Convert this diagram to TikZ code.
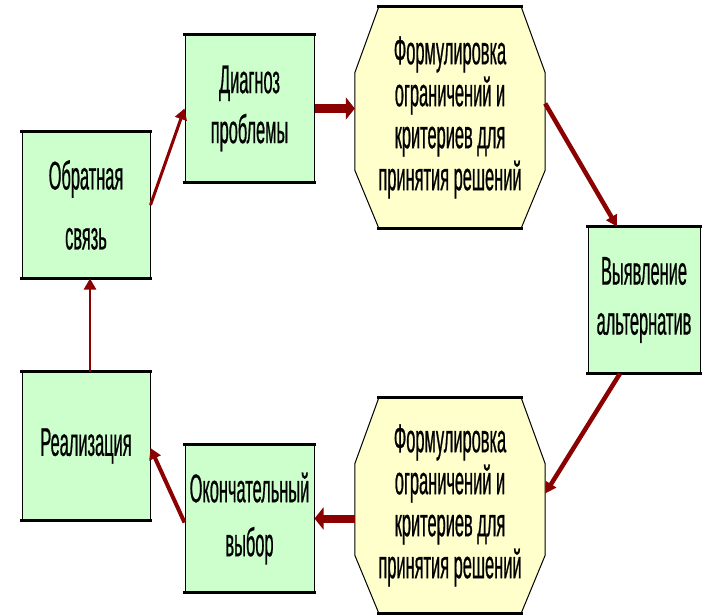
\documentclass[tikz,border=0pt]{standalone}
\usepackage{fontspec}
\newfontfamily\boxfont[FakeStretch=0.41,FakeBold=0.5]{Liberation Sans}
\usetikzlibrary{arrows.meta,calc,backgrounds}
\definecolor{boxgreen}{RGB}{204,255,204}
\definecolor{boxyellow}{RGB}{255,255,204}
\definecolor{arrowred}{RGB}{139,0,0}
\tikzset{
  greenbox/.style={rectangle, fill=boxgreen, draw=black, line width=1pt, inner sep=0pt,
    align=center, text=black},
  octnode/.style={rectangle, inner sep=0pt, align=center, text=black,
    font=\boxfont\fontsize{40}{42}\selectfont},
  edgeline/.style={line width=3pt, line cap=rect},
  conn/.style={draw=arrowred, line width=#1, -{Triangle[length=11pt,width=12pt]}},
  bigconn/.style={draw=arrowred, line width=#1, -{Triangle[length=9pt,width=22pt]}}
}
\begin{document}
\begin{tikzpicture}[x=1pt,y=-1pt]
\path[use as bounding box] (0,0) rectangle (702,615);

\node[greenbox, minimum width=128pt, minimum height=146pt,
  font=\boxfont\fontsize{40}{60}\selectfont] (fb) at (86,205) {Обратная\\связь};
\node[greenbox, minimum width=129pt, minimum height=147pt,
  font=\boxfont\fontsize{40}{50}\selectfont] (dg) at (249.5,108.5) {Диагноз\\проблемы};
\node[octnode, minimum width=190pt, minimum height=221pt] (oc1) at (450,117.5)
  {Формулировка\\ограничений и\\критериев для\\принятия решений};
\node[greenbox, minimum width=112pt, minimum height=146pt,
  font=\boxfont\fontsize{40}{50}\selectfont] (va) at (644,300) {Выявление\\альтернатив};
\node[octnode, minimum width=190pt, minimum height=215pt] (oc2) at (450,505.5)
  {Формулировка\\ограничений и\\критериев для\\принятия решений};
\node[greenbox, minimum width=129pt, minimum height=147pt,
  font=\boxfont\fontsize{40}{54}\selectfont] (ok) at (249.5,518.5) {Окончательный\\выбор};
\node[greenbox, minimum width=128pt, minimum height=148pt,
  font=\boxfont\fontsize{40}{50}\selectfont] (re) at (86,446) {Реализация};

\begin{scope}[on background layer]
\foreach \X in {oc1,oc2}{
  \filldraw[fill=boxyellow, draw=black, line width=1pt]
    ($(\X.north west)+(24,0)$) -- ($(\X.north east)+(-24,0)$)
    -- ($(\X.north east)+(0,66)$) -- ($(\X.south east)+(0,-58)$)
    -- ($(\X.south east)+(-24,0)$) -- ($(\X.south west)+(24,0)$)
    -- ($(\X.south west)+(0,-58)$) -- ($(\X.north west)+(0,66)$) -- cycle;
}
\end{scope}
\foreach \X in {oc1,oc2}{
  \draw[edgeline] ($(\X.north west)+(24,0)$) -- ($(\X.north east)+(-24,0)$);
  \draw[edgeline] ($(\X.south west)+(24,0)$) -- ($(\X.south east)+(-24,0)$);
}
\foreach \X in {fb,dg,va,ok,re}{
  \draw[edgeline] (\X.north west) -- (\X.north east);
  \draw[edgeline] (\X.south west) -- (\X.south east);
}

\draw[conn=3pt] (fb.east) -- (dg.west);
\draw[bigconn=9pt] (dg.east) -- (dg.east -| oc1.west);
\draw[conn=4.5pt] ($(oc1.east)+(0,-14)$) -- ($(va.north)+(-27,0)$);
\draw[conn=4.5pt] ($(va.south)+(-24,0)$) -- ($(oc2.east)+(0,-12)$);
\draw[bigconn=8pt] (ok.east -| oc2.west) -- (ok.east);
\draw[conn=4pt] ($(ok.west)+(0,4)$) -- ($(re.east)+(0,2)$);
\draw[conn=2.5pt] ($(re.north)+(4,0)$) -- ($(fb.south)+(4,0)$);
\end{tikzpicture}
\end{document}
